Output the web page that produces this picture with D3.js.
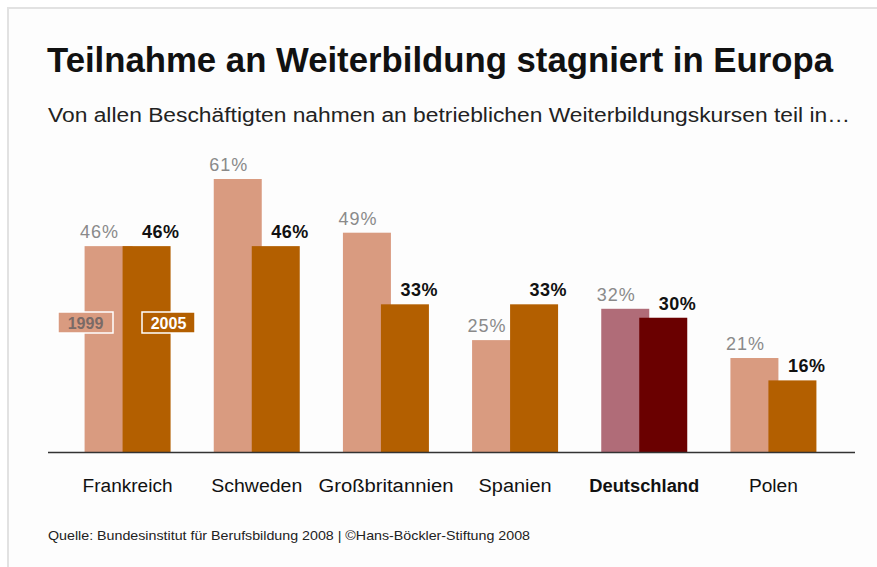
<!DOCTYPE html>
<html><head><meta charset="utf-8">
<script src="https://cdn.jsdelivr.net/npm/d3@7"></script>
<style>html,body{margin:0;padding:0;background:#fff;}svg{display:block;}</style>
</head><body>
<script>
const categories = ["Frankreich","Schweden","Großbritannien","Spanien","Deutschland","Polen"];
const values1999 = [46, 61, 49, 25, 32, 21];
const values2005 = [46, 46, 33, 33, 30, 16];
const seriesLabels = ["1999", "2005"];
const title = "Teilnahme an Weiterbildung stagniert in Europa";
const subtitle = "Von allen Beschäftigten nahmen an betrieblichen Weiterbildungskursen teil in…";
const source = "Quelle: Bundesinstitut für Berufsbildung 2008 | ©Hans-Böckler-Stiftung 2008";
const highlight = "Deutschland";

const W = 877, H = 567;
const svg = d3.select("body").append("svg").attr("width", W).attr("height", H);
const FONT = "'Liberation Sans', Arial, sans-serif";

// frame
svg.append("rect").attr("x",0).attr("y",0).attr("width",W).attr("height",H).attr("fill","#fff");
svg.append("rect").attr("x",8).attr("y",8).attr("width",W+20).attr("height",H+20)
  .attr("fill","#fdfdfd").attr("stroke","#e2e2e2").attr("stroke-width",2);

function fitText(sel, w){ sel.attr("textLength", w).attr("lengthAdjust","spacingAndGlyphs"); }

const t = svg.append("text").attr("x",47).attr("y",72).attr("font-family",FONT)
  .attr("font-weight","bold").attr("font-size",35).attr("fill","#111").text(title);
fitText(t, 786);
const st = svg.append("text").attr("x",48).attr("y",122).attr("font-family",FONT)
  .attr("font-size",19.5).attr("fill","#222").text(subtitle);
fitText(st, 802);

const x = d3.scaleBand().domain(categories).range([63, 838]).padding(0);
const y = d3.scaleLinear().domain([0, 61]).range([452, 179]);

const data = categories.map((c,i)=>({c, v1:values1999[i], v2:values2005[i]}));
const g = svg.append("g");
const col1 = d => d.c===highlight ? "#b06c78" : "#d99b80";
const col2 = d => d.c===highlight ? "#6a0000" : "#b35f00";
const cx = d => x(d.c) + x.bandwidth()/2;

g.selectAll("rect.b1").data(data).join("rect").attr("class","b1")
  .attr("x", d=>cx(d)-43).attr("width",48)
  .attr("y", d=>y(d.v1)).attr("height", d=>y(0)-y(d.v1)).attr("fill", col1);
g.selectAll("rect.b2").data(data).join("rect").attr("class","b2")
  .attr("x", d=>cx(d)-5).attr("width",48)
  .attr("y", d=>y(d.v2)).attr("height", d=>y(0)-y(d.v2)).attr("fill", col2);

g.selectAll("text.l1").data(data).join("text").attr("class","l1")
  .attr("x", d=>cx(d)-28).attr("y", d=>y(d.v1)-8).attr("text-anchor","middle")
  .attr("font-family",FONT).attr("font-size",18).attr("fill","#8a8a8a")
  .attr("letter-spacing", 1)
  .text(d=>d.v1+"%");
g.selectAll("text.l2").data(data).join("text").attr("class","l2")
  .attr("x", d=>cx(d)+52).attr("y", d=>y(d.v2)-8).attr("text-anchor","end")
  .attr("font-family",FONT).attr("font-weight","bold").attr("font-size",18).attr("fill","#111")
  .attr("letter-spacing", 0.5)
  .text(d=>d.v2+"%");

// baseline
svg.append("line").attr("x1",48).attr("x2",855).attr("y1",y(0)+0.5).attr("y2",y(0)+0.5)
  .attr("stroke","#333").attr("stroke-width",1.5);

// category labels
const catW = {"Frankreich":90,"Schweden":91,"Großbritannien":135,"Spanien":73,"Deutschland":110,"Polen":49};
svg.selectAll("text.cat").data(categories).join("text").attr("class","cat")
  .attr("x", c=>x(c)+x.bandwidth()/2).attr("y",492).attr("text-anchor","middle")
  .attr("font-family",FONT).attr("font-size",18).attr("fill","#111")
  .attr("font-weight", c=>c===highlight?"bold":"normal")
  .attr("textLength", c=>catW[c]).attr("lengthAdjust","spacingAndGlyphs")
  .text(c=>c);

// legend boxes inside Frankreich group
const legend = [
  {label: seriesLabels[0], x: 58, w: 55, fill: "#d99b80", txt: "#7a6a66"},
  {label: seriesLabels[1], x: 142, w: 53, fill: "#b35f00", txt: "#ffffff"}
];
const lg = svg.append("g");
lg.selectAll("rect").data(legend).join("rect")
  .attr("x", d=>d.x).attr("y",312).attr("width", d=>d.w).attr("height",21)
  .attr("fill", d=>d.fill).attr("stroke","#fff").attr("stroke-width",1.5);
lg.selectAll("text").data(legend).join("text")
  .attr("x", d=>d.x+d.w/2).attr("y",328.5).attr("text-anchor","middle")
  .attr("font-family",FONT).attr("font-weight","bold").attr("font-size",16)
  .attr("fill", d=>d.txt).text(d=>d.label);

const src = svg.append("text").attr("x",48).attr("y",540).attr("font-family",FONT)
  .attr("font-size",13).attr("fill","#222").text(source);
fitText(src, 482);
</script>
</body></html>
